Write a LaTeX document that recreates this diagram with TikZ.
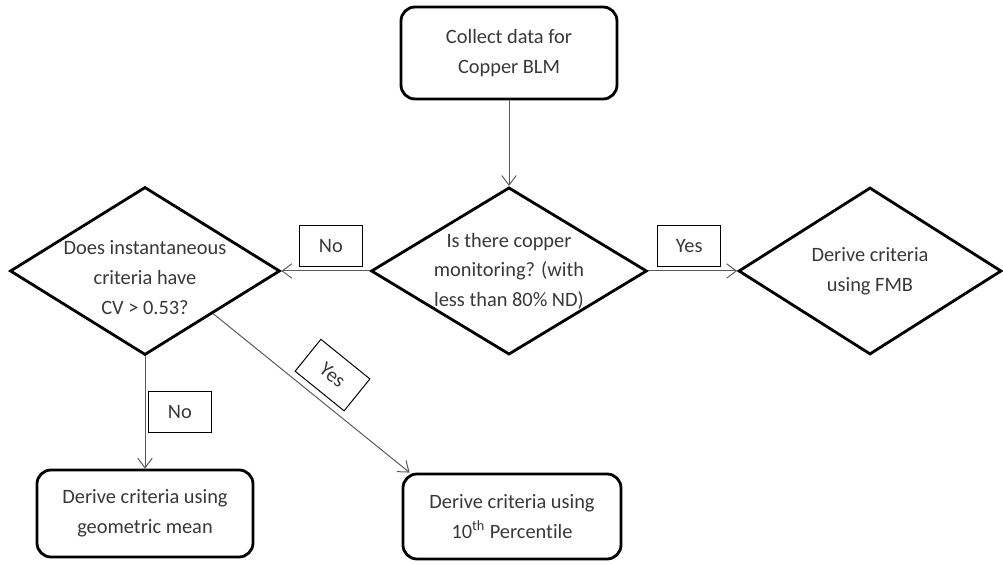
\documentclass[tikz,border=0pt]{standalone}
\usepackage{fontspec}
\setmainfont{Carlito}[Ligatures=NoCommon]
\usepackage{tikz}
\usetikzlibrary{shapes.geometric}
\usetikzlibrary{arrows.meta}

\tikzset{
  procbox/.style={draw=black, line width=2pt, rounded corners=0.35cm, align=center},
  decision/.style={draw=black, line width=2pt, diamond, aspect=1.65, inner sep=0pt, align=center},
  lbl/.style={draw=black, line width=0.7pt, minimum width=1.575cm, minimum height=1.025cm, inner sep=0pt},
  flow/.style={draw=black!65, line width=0.7pt, -{Straight Barb[length=2.4mm, width=3.6mm]}}
}

\begin{document}
\begin{tikzpicture}[font=\fontsize{14.5pt}{21pt}\selectfont, text=black!78]

\useasboundingbox (0,0) rectangle (25.075,14.125);

\node[procbox, minimum width=5.4cm, minimum height=2.3cm] (collect) at (12.725,12.8) {Collect data for\\Copper BLM};
\node[decision, minimum width=6.85cm, minimum height=4.15cm] (monitor) at (12.725,7.35) {Is there copper\\monitoring? (with\\less than 80\% ND)};
% text sits low in this one
\node[decision, minimum width=6.75cm, minimum height=4.2cm] (cvtest) at (3.625,7.35)
  {\raisebox{-9pt}[0pt][0pt]{\begin{tabular}{@{}c@{}}Does instantaneous\\criteria have\\CV > 0.53?\end{tabular}}};
\node[decision, minimum width=6.575cm, minimum height=4.175cm] (fmb) at (21.75,7.35) {Derive criteria\\using FMB};
\node[procbox, minimum width=5.4cm, minimum height=2.175cm] (geomean) at (3.625,1.2875) {Derive criteria using\\geometric mean};
\node[procbox, minimum width=5.45cm, minimum height=2.125cm] (pctile) at (12.8,1.2125) {Derive criteria using\\10\textsuperscript{th} Percentile};

\draw[flow] (collect) -- (monitor);
\draw[flow] (monitor) -- (cvtest) node[lbl, pos=0.44, above=2.5pt] (no1) {No};
\draw[flow] (monitor) -- (fmb) node[lbl, pos=0.46, above=2.5pt] (yes1) {Yes};
\draw[flow] (cvtest) -- (geomean) node[lbl, midway, right=2pt] (no2) {No};
\draw[flow] (cvtest.south east) -- ([xshift=2mm]pctile.north west) node[lbl, sloped, pos=0.52, above=4.5pt] (yes2) {Yes};

\end{tikzpicture}
\end{document}
